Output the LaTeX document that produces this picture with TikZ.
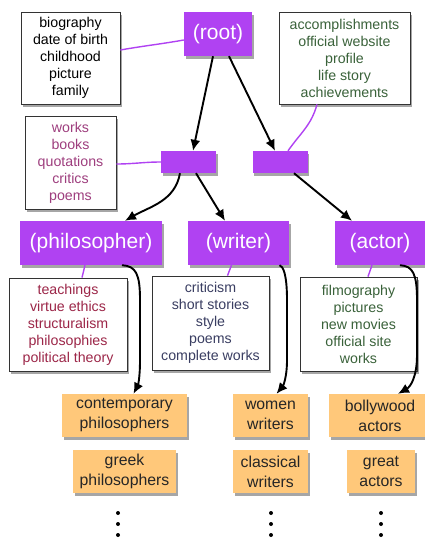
\documentclass[tikz,border=0pt]{standalone}
\usepackage{fontspec}
\setmainfont{Liberation Sans}
\usetikzlibrary{arrows.meta,shadows,calc}
\definecolor{purp}{RGB}{176,66,242}
\definecolor{orng}{RGB}{255,200,122}
\definecolor{cmag}{RGB}{158,62,126}
\definecolor{ccrim}{RGB}{156,38,72}
\definecolor{cblue}{RGB}{58,62,98}
\definecolor{cgreen}{RGB}{58,98,58}
\tikzset{
  shad/.style={drop shadow={shadow xshift=1.5pt,shadow yshift=-3pt,opacity=0.35,fill=black}},
  pbox/.style={fill=purp,text=white,inner sep=0pt,font=\fontsize{21}{25}\selectfont,shad},
  lbox/.style={draw=black!80,line width=0.8pt,fill=white,align=center,inner sep=0pt,font=\fontsize{14.2}{17}\selectfont,shad},
  obox/.style={fill=orng,align=center,inner sep=0pt,text=black!85,font=\fontsize{15.8}{20}\selectfont,shad},
  arr/.style={line width=1.9pt,-{Latex[length=11pt,width=10pt]}},
  pline/.style={purp,line width=1.4pt},
}
\begin{document}
\begin{tikzpicture}[x=1pt,y=-1pt]
\useasboundingbox (0,0) rectangle (424,539);
% top row
\node[pbox,minimum width=68pt,minimum height=44pt] (root) at (218,34) {(root)};
\node[lbox,minimum width=99pt,minimum height=92pt] (bio) at (70.5,58) {biography\\date of birth\\childhood\\picture\\family};
\node[lbox,minimum width=131pt,minimum height=92pt,text=cgreen] (acc) at (344.5,58) {accomplishments\\official website\\profile\\life story\\achievements};
\node[lbox,minimum width=91pt,minimum height=93pt,text=cmag] (works) at (70.5,162.5) {works\\books\\quotations\\critics\\poems};
\node[pbox,minimum width=55pt,minimum height=22pt] (s1) at (188.5,162) {};
\node[pbox,minimum width=55pt,minimum height=22pt] (s2) at (280,162) {};
% second level
\node[pbox,minimum width=142pt,minimum height=44pt] (phil) at (91,243) {(philosopher)};
\node[pbox,minimum width=101pt,minimum height=44pt] (writer) at (238.5,243) {(writer)};
\node[pbox,minimum width=90pt,minimum height=44pt] (actor) at (380,243) {(actor)};
% lists
\node[lbox,minimum width=118pt,minimum height=93pt,text=ccrim] (teach) at (68,324.5) {teachings\\virtue ethics\\structuralism\\philosophies\\political theory};
\node[lbox,minimum width=117pt,minimum height=94pt,text=cblue] (crit) at (210.5,323) {criticism\\short stories\\style\\poems\\complete works};
\node[lbox,minimum width=117pt,minimum height=94pt,text=cgreen] (film) at (358.5,324) {filmography\\pictures\\new movies\\official site\\works};
% orange
\node[obox,minimum width=125pt,minimum height=43pt] (contemp) at (124.5,415.5) {contemporary\\philosophers};
\node[obox,minimum width=103pt,minimum height=43pt] (greek) at (124.5,471.5) {greek\\philosophers};
\node[obox,minimum width=75pt,minimum height=43pt] (women) at (270.5,415.5) {women\\writers};
\node[obox,minimum width=75pt,minimum height=43pt] (classical) at (270.5,471.5) {classical\\writers};
\node[obox,minimum width=102pt,minimum height=43pt] (bolly) at (380,415.5) {bollywood\\actors};
\node[obox,minimum width=68pt,minimum height=43pt] (great) at (381,471.5) {great\\actors};
% purple lines
\draw[pline] ($(bio.east)+(0,-8)$) to[out=10,in=190] ($(root.west)+(0,6)$);
\draw[pline] ($(acc.south)+(-27.5,0)$) to[out=-105,in=55] ($(s2.north)+(8,0)$);
\draw[pline] ($(works.east)+(0,1.5)$) to[out=0,in=180] (s1.west);
\draw[pline] ($(phil.south)+(-6,0)$) -- ($(teach.north)+(14,0)$);
\draw[pline] ($(writer.south)+(-7,0)$) -- ($(crit.north)+(17,0)$);
\draw[pline] ($(actor.south)+(-8,0)$) -- ($(film.north)+(9.5,0)$);
% black arrows
\draw[arr] ($(root.south)+(-5,0)$) -- ($(s1.north)+(4.5,0)$);
\draw[arr] ($(root.south)+(11,0)$) -- ($(s2.north)+(-5,0)$);
\draw[arr] ($(s1.south)+(-8.5,0)$) to[out=-100,in=30] ($(phil.north)+(34,0)$);
\draw[arr] ($(s1.south)+(7.5,0)$) -- ($(writer.north)+(-13.5,0)$);
\draw[arr] ($(s2.south)+(14,0)$) -- ($(actor.north)+(-28,0)$);
\draw[arr] ($(phil.south)+(31,0)$) .. controls (136,266) and (140,274) .. (140,300) -- (140,360) .. controls (140,378) and (138,385) .. ($(contemp.north)+(9,0)$);
\draw[arr] ($(writer.south)+(41,0)$) .. controls (283,266) and (287,274) .. (287,300) -- (287,360) .. controls (287,378) and (283,386) .. ($(women.north)+(6,0)$);
\draw[arr] ($(actor.south)+(20,0)$) .. controls (413,266) and (417,274) .. (417,300) -- (417,355) .. controls (417,378) and (410,387) .. ($(bolly.north)+(18,0)$);
% dots
\foreach \x/\n in {118/a,271/b,381/c}{
  \foreach \y/\m in {513/1,524/2,535/3}{
    \fill (\x,\y) circle (2pt) coordinate (dot\n\m);
  }
}
\end{tikzpicture}
\end{document}
